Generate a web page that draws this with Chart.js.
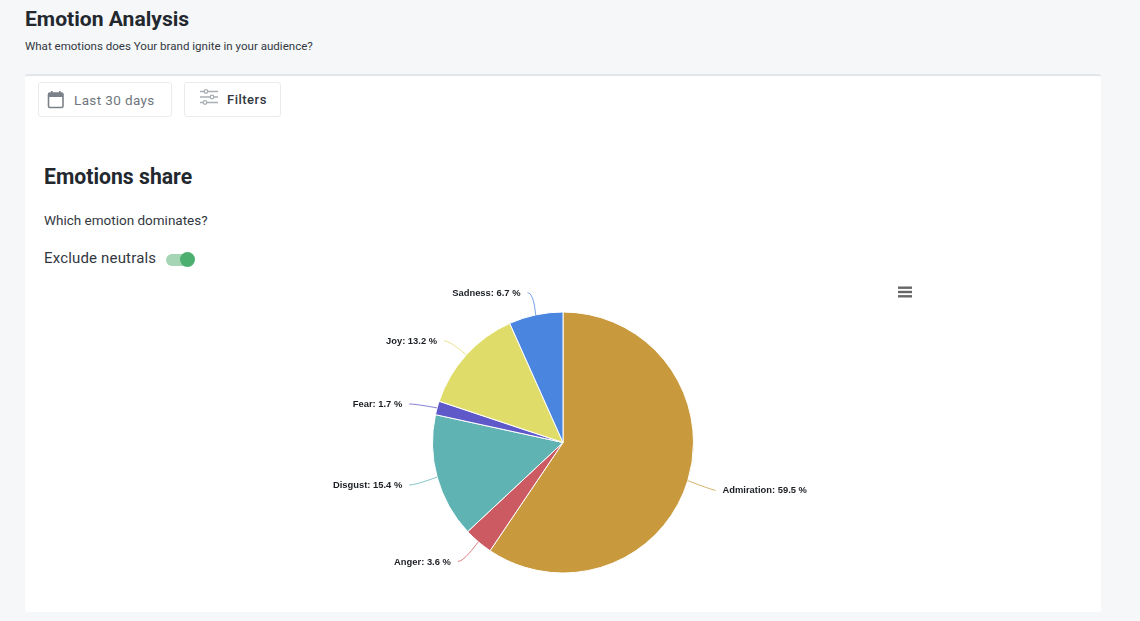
<!DOCTYPE html>
<html>
<head>
<meta charset="utf-8">
<title>Emotion Analysis</title>
<script src="https://cdn.jsdelivr.net/npm/chart.js@4"></script>
<style>
  html, body { margin: 0; padding: 0; }
  body { width: 1140px; height: 621px; background: #f5f7f9; font-family: Roboto, sans-serif; color: #23282f; position: relative; overflow: hidden; }
  .abs { position: absolute; white-space: nowrap; }
  #title { left: 25px; top: 6px; font-size: 21.1px; line-height: 26px; font-weight: 700; }
  #sub { left: 25px; top: 39px; font-size: 11.55px; line-height: 15px; color: #33383f; }
  #card { left: 25px; top: 74px; width: 1076px; height: 538px; background: #fff; border-top: 2px solid #e3e5e8; border-radius: 3px; box-sizing: border-box; }
  .btn { top: 82px; height: 35px; box-sizing: border-box; background: #fff; border: 1px solid #e9ebee; border-radius: 3px; }
  #b1 { left: 38px; width: 134px; }
  #b2 { left: 184px; width: 97px; }
  #t1 { left: 74px; top: 92px; font-size: 13.5px; line-height: 16px; color: #70767d; letter-spacing: .38px; }
  #t2 { left: 227px; top: 92px; font-size: 13px; line-height: 16px; font-weight: 500; letter-spacing: .5px; color: #33383f; }
  #h2 { left: 44px; top: 164px; font-size: 21.2px; line-height: 26px; font-weight: 700; }
  #q { left: 44px; top: 212px; font-size: 13.5px; line-height: 17px; color: #33383f; }
  #ex { left: 44px; top: 249px; font-size: 15px; line-height: 18px; color: #33383f; letter-spacing: .17px; }
  #track { left: 166px; top: 254px; width: 27px; height: 12px; border-radius: 6px; background: #a5d5b4; }
  #knob { left: 180px; top: 252px; width: 15px; height: 15px; border-radius: 50%; background: #4caf6f; }
  #chart { position: absolute; left: 63px; top: 272px; }
</style>
</head>
<body>
<div class="abs" id="title">Emotion Analysis</div>
<div class="abs" id="sub">What emotions does Your brand ignite in your audience?</div>
<div class="abs" id="card"></div>
<div class="abs btn" id="b1"></div>
<div class="abs btn" id="b2"></div>
<svg class="abs" style="left:47px;top:90px" width="18" height="19" viewBox="0 0 18 19">
  <rect x="1.5" y="3" width="14.5" height="14.5" rx="1.5" fill="none" stroke="#7b8189" stroke-width="1.6"/>
  <rect x="1.5" y="3" width="14.5" height="4" fill="#7b8189"/>
  <rect x="4" y="1" width="1.6" height="3" fill="#7b8189"/>
  <rect x="12" y="1" width="1.6" height="3" fill="#7b8189"/>
</svg>
<div class="abs" id="t1">Last 30 days</div>
<svg class="abs" style="left:199px;top:88px" width="20" height="18" viewBox="0 0 20 18" fill="#fff" stroke="#a9aeb4" stroke-width="1.3">
  <path d="M1 3.5H19M1 9H19M1 14.5H19"/>
  <circle cx="7" cy="3.5" r="1.8"/>
  <circle cx="13" cy="9" r="1.8"/>
  <circle cx="6" cy="14.5" r="1.8"/>
</svg>
<div class="abs" id="t2">Filters</div>
<div class="abs" id="h2">Emotions share</div>
<div class="abs" id="q">Which emotion dominates?</div>
<div class="abs" id="ex">Exclude neutrals</div>
<div class="abs" id="track"></div>
<div class="abs" id="knob"></div>
<svg class="abs" style="left:898px;top:286px" width="14" height="12" viewBox="0 0 14 12" fill="#666">
  <rect y="0.5" width="14" height="2.4"/>
  <rect y="4.8" width="14" height="2.4"/>
  <rect y="9.1" width="14" height="2.4"/>
</svg>
<canvas id="chart" width="1000" height="341"></canvas>
<script>
const emotions = ['Admiration', 'Anger', 'Disgust', 'Fear', 'Joy', 'Sadness'];
const shares = [59.5, 3.6, 15.4, 1.7, 13.2, 6.7];
const colors = ['#c9993d', '#cb5a62', '#5fb3b3', '#5f58c8', '#e0dc69', '#4a85e0'];
// labels were pushed around a bit by the original chart's collision logic
const labelNudgeX = [-1, -1, 1, 1, 0, -2];
const labelNudgeY = [1, -3, 0, 4, 6, 7];

const outsideLabels = {
  id: 'outsideLabels',
  afterDatasetsDraw(chart) {
    const c = chart.ctx;
    const arcs = chart.getDatasetMeta(0).data;
    arcs.forEach((arc, i) => {
      const mid = (arc.startAngle + arc.endAngle) / 2;
      const r = arc.outerRadius;
      const sx = arc.x + Math.cos(mid) * r;
      const sy = arc.y + Math.sin(mid) * r;
      const ex = arc.x + Math.cos(mid) * (r + 30) + labelNudgeX[i];
      const ey = arc.y + Math.sin(mid) * (r + 30) + labelNudgeY[i];
      const right = Math.cos(mid) > 0;
      c.save();
      c.strokeStyle = colors[i];
      c.globalAlpha = 0.75;
      c.lineWidth = 1;
      c.beginPath();
      c.moveTo(sx, sy);
      c.quadraticCurveTo(ex + (right ? -8 : 6), ey - (right ? 2 : 0), ex, ey);
      c.stroke();
      c.globalAlpha = 1;
      c.fillStyle = '#1c1f24';
      c.font = 'bold 9.4px "Liberation Sans"';
      c.textBaseline = 'middle';
      c.textAlign = right ? 'left' : 'right';
      c.fillText(emotions[i] + ': ' + shares[i].toFixed(1) + ' %', ex + (right ? 7 : -7), ey + 0.5);
      c.restore();
    });
  }
};

new Chart(document.getElementById('chart'), {
  type: 'pie',
  data: {
    labels: emotions,
    datasets: [{
      data: shares,
      backgroundColor: colors,
      borderColor: '#fff',
      borderWidth: 1,
      radius: 130.5
    }]
  },
  options: {
    responsive: false,
    animation: false,
    layout: { padding: 0 },
    plugins: {
      legend: { display: false },
      tooltip: { enabled: false }
    }
  },
  plugins: [outsideLabels]
});
</script>
</body>
</html>
